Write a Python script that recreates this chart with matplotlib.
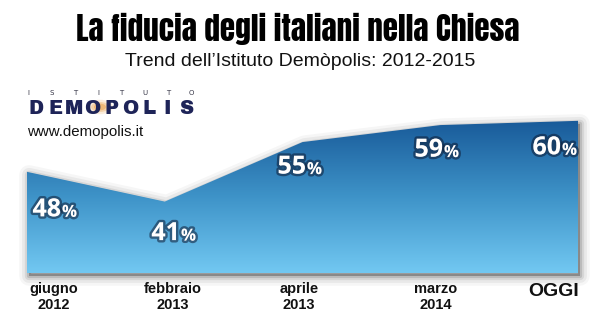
import numpy as np
import matplotlib
matplotlib.use("Agg")
import matplotlib.pyplot as plt
import matplotlib.patheffects as pe
import matplotlib.transforms as mtransforms
from matplotlib.colors import LinearSegmentedColormap

# ---- data ----
categories = ["giugno\n2012", "febbraio\n2013", "aprile\n2013", "marzo\n2014", "OGGI"]
values = [48, 41, 55, 59, 60]
value_labels = ["48", "41", "55", "59", "60"]
title = "La fiducia degli italiani nella Chiesa"
subtitle = "Trend dell\u2019Istituto Dem\u00f2polis: 2012-2015"

W, H, DPI = 600, 334, 100
fig = plt.figure(figsize=(W / DPI, H / DPI), dpi=DPI)
fig.patch.set_facecolor("white")

def fx(px):
    return px / W

def fy(py):
    return 1 - py / H

# axes spanning the area chart
ax_left, ax_right, ax_top, ax_bottom = 27, 578, 100, 273
ax = fig.add_axes([fx(ax_left), fy(ax_bottom), fx(ax_right - ax_left), (ax_bottom - ax_top) / H])
ax.set_axis_off()
x = np.arange(len(values))
y0, y1 = 24.2, 64.9
ax.set_xlim(0, len(values) - 1)
ax.set_ylim(y0, y1)

# soft shadow
for lw, a in [(14, 0.035), (10, 0.05), (6, 0.08), (3, 0.12)]:
    tr = mtransforms.offset_copy(ax.transData, fig=fig, x=1.5, y=-2.5, units="dots")
    ax.fill_between(x, values, y0, facecolor=(0, 0, 0, a), edgecolor=(0, 0, 0, a),
                    linewidth=lw, transform=tr, clip_on=False, zorder=1)

# gradient fill
poly = ax.fill_between(x, values, y0, facecolor="none", edgecolor="none", zorder=2)
cmap = LinearSegmentedColormap.from_list("blu", ["#72c8f2", "#3e93c8", "#185a99"])
grad = np.linspace(0, 1, 256).reshape(-1, 1)
im = ax.imshow(grad, aspect="auto", cmap=cmap, origin="lower",
               extent=[0, len(values) - 1, y0, max(values)], zorder=3, interpolation="bicubic")
im.set_clip_path(poly.get_paths()[0], transform=ax.transData)
ax.set_ylim(y0, y1)

# value labels
label_px = [54, 173, 299, 436, 554]
label_off = [-38, -32, -25, -25, -27]
shadow = [pe.withStroke(linewidth=3.5, foreground=(0.05, 0.1, 0.2, 0.55))]
for i, (v, t) in enumerate(zip(values, value_labels)):
    dx = label_px[i] - (ax_left + x[i] * (ax_right - ax_left) / (len(values) - 1))
    ax.annotate(t, xy=(x[i], v), xycoords="data",
                xytext=(dx + 7, label_off[i]),
                textcoords="offset pixels", ha="right", va="center",
                fontsize=18, fontweight="bold", family="Open Sans", color="white",
                path_effects=shadow, zorder=5, annotation_clip=False)
    ax.annotate("%", xy=(x[i], v), xycoords="data",
                xytext=(dx + 8, label_off[i] - 2),
                textcoords="offset pixels", ha="left", va="center",
                fontsize=12, fontweight="bold", family="Open Sans", color="white",
                path_effects=shadow, zorder=5, annotation_clip=False)

# category labels
for i, c in enumerate(categories):
    if c == "OGGI":
        fig.text(fx(label_px[i]), fy(292), c, ha="center", va="center",
                 fontsize=14, fontweight="bold", family="Liberation Sans", color="#111111")
    else:
        fig.text(fx(label_px[i]), fy(297), c, ha="center", va="center",
                 fontsize=10.5, fontweight="bold", family="Liberation Sans", color="#111111",
                 linespacing=1.15)

# titles
fig.text(fx(298), fy(29), title, ha="center", va="center", fontsize=22.5,
         family=["Anton", "Liberation Sans"], color="black")
fig.text(fx(300), fy(62), subtitle, ha="center", va="center", fontsize=14,
         family="Liberation Sans", color="#111111")

# logo
for r, a in [(13, 0.18), (9, 0.3), (6, 0.45)]:
    fig.patches.append(plt.Circle((fx(100), fy(107)), r / W, transform=fig.transFigure,
                                  facecolor="#e8993a", alpha=a, edgecolor="none"))
for i, ch in enumerate("ISTITUTO"):
    fig.text(fx(28 + i * 23.4), fy(93), ch, ha="center", va="center", fontsize=5,
             family="DejaVu Sans", color="#333344")
for i, ch in enumerate("DEMOPOLIS"):
    fig.text(fx(36.5 + i * 18.7), fy(108), ch, ha="center", va="center", fontsize=14,
             family=["Archivo Black", "DejaVu Sans"], color="#1e2458")
fig.text(fx(27), fy(132), "www.demopolis.it", ha="left", va="center", fontsize=10.8,
         family="Liberation Sans", color="#111111")

fig.savefig("out.png", dpi=DPI, facecolor="white")
